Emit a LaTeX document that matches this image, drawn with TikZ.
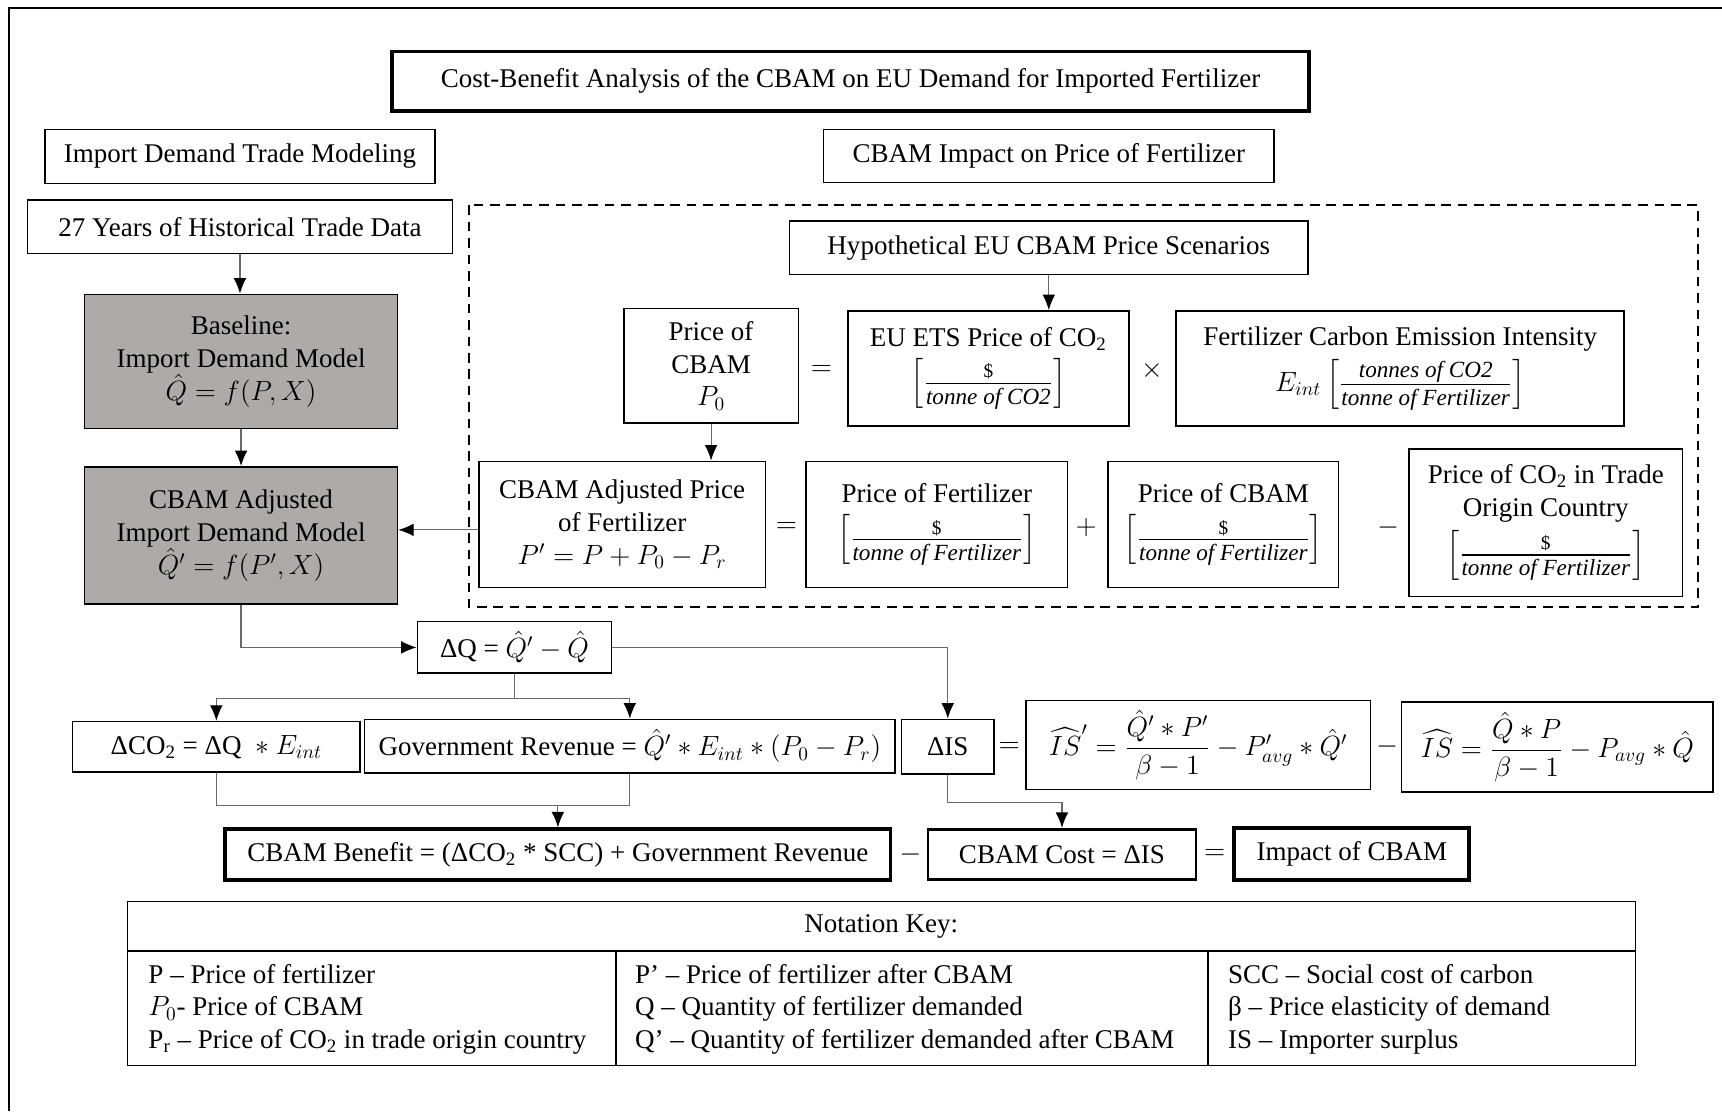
\documentclass[tikz,border=0pt]{standalone}
\usepackage{amsmath}
\usepackage{fontspec}
\setmainfont{Liberation Serif}
\usetikzlibrary{arrows.meta}
\definecolor{modelgray}{RGB}{174,170,170}
\definecolor{linkgray}{RGB}{105,105,105}
\newcommand{\unitratio}[2]{\left[\frac{\text{\fontsize{10}{12}\selectfont #1\rule[-2pt]{0pt}{2pt}}}{\text{\fontsize{12}{12}\selectfont\rule{0pt}{10pt}\itshape #2}}\right]}

\begin{document}
\begin{tikzpicture}[
  x=0.02cm, y=-0.02cm,
  every node/.style={font=\fontsize{14}{17}\selectfont, align=center},
  box/.style={draw, line width=0.8pt},
  heavy/.style={draw, line width=1.9pt},
  model/.style={box, fill=modelgray},
  link/.style={draw=linkgray, line width=0.6pt},
  arrow/.style={link, -{Latex[length=2.8mm, width=2.3mm, color=black]}}
]
\useasboundingbox (0,0) rectangle (1568,1012);
\draw[line width=1pt] (8,1012) -- (8,7) -- (1568,7);

\node[heavy, minimum width=16.7cm, minimum height=1.08cm] (title) at (774.5,74) {Cost-Benefit Analysis of the CBAM on EU Demand for Imported Fertilizer};
\node[box, minimum width=7.1cm, minimum height=0.98cm] (idtm) at (218.5,142.5) {Import Demand Trade Modeling};
\node[box, minimum width=8.2cm, minimum height=0.96cm] (cipf) at (955,142) {CBAM Impact on Price of Fertilizer};
\node[box, minimum width=7.74cm, minimum height=0.98cm] (hist) at (218.5,206.5) {27 Years of Historical Trade Data};

\draw[line width=1pt, dash pattern=on 5pt off 3.5pt] (427,187) rectangle (1546,553);
\node[box, minimum width=9.44cm, minimum height=0.98cm] (scen) at (955,225.5) {Hypothetical EU CBAM Price Scenarios};
\node[box, minimum width=3.18cm, minimum height=2.08cm] (pcbam) at (647.5,333) {Price of\\CBAM\\$P_0$};
\node (eqA) at (748,337) {$=$};
\node[box, minimum width=5.12cm, minimum height=2.1cm] (ets) at (900,335.5) {EU ETS Price of CO\textsubscript{2}\\[3pt]$\unitratio{\$}{tonne of CO2}$};
\node (timesA) at (1049,337) {$\times$};
\node[box, minimum width=8.16cm, minimum height=2.1cm] (intens) at (1275,335.5) {Fertilizer Carbon Emission Intensity\\[3pt]$E_{int}\unitratio{\fontsize{12}{12}\selectfont\itshape tonnes of CO2}{tonne of Fertilizer}$};
\node[box, minimum width=5.22cm, minimum height=2.3cm] (adjprice) at (566.5,477.5) {CBAM Adjusted Price\\of Fertilizer\\$P' = P + P_0 - P_r$};
\node (eqB) at (716,480) {$=$};
\node[box, minimum width=4.76cm, minimum height=2.3cm] (pfert) at (853,477.5) {Price of Fertilizer\\[6pt]$\unitratio{\$}{tonne of Fertilizer}$};
\node (plusB) at (989,480) {$+$};
\node[box, minimum width=4.2cm, minimum height=2.3cm] (pcbamB) at (1114,477.5) {Price of CBAM\\[6pt]$\unitratio{\$}{tonne of Fertilizer}$};
\node (minusB) at (1264,480) {$-$};
\node[box, minimum width=4.98cm, minimum height=2.68cm] (porigin) at (1407.5,476) {Price of CO\textsubscript{2} in Trade\\Origin Country\\[3pt]$\unitratio{\$}{tonne of Fertilizer}$};

\node[model, minimum width=5.7cm, minimum height=2.44cm] (base) at (219.5,329) {Baseline:\\Import Demand Model\\$\hat{Q} = f(P,X)$};
\node[model, minimum width=5.7cm, minimum height=2.5cm] (adjmodel) at (219.5,487.5) {CBAM Adjusted\\Import Demand Model\\$\hat{Q}' = f(P',X)$};

\node[box, minimum width=3.54cm, minimum height=0.94cm] (dq) at (468.5,589.5) {ΔQ = $\hat{Q}' - \hat{Q}$};
\node[box, minimum width=5.24cm, minimum height=0.92cm] (dco2) at (197,680) {ΔCO\textsubscript{2} = ΔQ ~$\ast$ $E_{int}$};
\node[box, minimum width=9.66cm, minimum height=0.98cm] (rev) at (573.5,679.5) {Government Revenue = $\hat{Q}' * E_{int} * (P_0 - P_r)$};
\node[box, minimum width=1.68cm, minimum height=1cm] (dis) at (863,680) {ΔIS};
\node (eqC) at (919,681) {$=$};
\node[box, minimum width=6.28cm, minimum height=1.62cm] (isnew) at (1091,678.5) {$\widehat{IS}' = \dfrac{\hat{Q}' * P'}{\beta - 1} - P'_{avg} * \hat{Q}'$};
\node (minusC) at (1263,680) {$-$};
\node[box, minimum width=5.68cm, minimum height=1.64cm] (isold) at (1418,680) {$\widehat{IS} = \dfrac{\hat{Q} * P}{\beta - 1} - P_{avg} * \hat{Q}$};

\node[heavy, minimum width=12.12cm, minimum height=0.92cm] (benefit) at (508,778) {CBAM Benefit = (ΔCO\textsubscript{2} * SCC) + Government Revenue};
\node (minusD) at (829,778) {$-$};
\node[heavy, line width=1.4pt, minimum width=4.88cm, minimum height=0.92cm] (cost) at (967,778) {CBAM Cost = ΔIS};
\node (eqD) at (1106,778) {$=$};
\node[heavy, line width=2.1pt, minimum width=4.28cm, minimum height=0.94cm] (impact) at (1231,777.5) {Impact of CBAM};

\draw[arrow] (hist.south) -- (hist.south |- base.north);
\draw[arrow] (base.south) -- (adjmodel.north);
\draw[arrow] (scen.south) -- (scen.south |- ets.north);
\draw[arrow] (pcbam.south) -- (pcbam.south |- adjprice.north);
\draw[arrow] ([yshift=-0.1cm]adjprice.west) -- ([yshift=-0.1cm]adjprice.west -| adjmodel.east);
\draw[arrow] (adjmodel.south) |- (dq.west);
\draw[arrow] (dq.east) -| (dis.north);
\path (dq.south) ++(0,22) coordinate (fork);
\draw[link] (dq.south) -- (fork);
\draw[arrow] (fork) -| (dco2.north);
\draw[arrow] (fork) -| (rev.north);
\path (dco2.south) ++(0,30) coordinate (merge);
\draw[link] (dco2.south) -- (merge) -| (rev.south);
\draw[arrow] (merge -| benefit.north) -- (benefit.north);
\path (dis.south) ++(0,25) coordinate (bend);
\draw[arrow] (dis.south) -- (bend) -| (cost.north);

\draw[line width=0.7pt] (116,821) rectangle (1489,970);
\draw[line width=0.7pt] (116,866) -- (1489,866) (561,866) -- (561,970) (1100,866) -- (1100,970);
\node (keyhead) at (802.5,843.5) {Notation Key:};
\node[anchor=west, align=left] (keyA) at (129,919) {P -- Price of fertilizer\\$P_0$- Price of CBAM\\P\textsubscript{r} -- Price of CO\textsubscript{2} in trade origin country};
\node[anchor=west, align=left] (keyB) at (572,919) {P' -- Price of fertilizer after CBAM\\Q -- Quantity of fertilizer demanded\\Q' -- Quantity of fertilizer demanded after CBAM};
\node[anchor=west, align=left] (keyC) at (1112,919) {SCC -- Social cost of carbon\\β -- Price elasticity of demand\\IS -- Importer surplus};
\end{tikzpicture}
\end{document}
